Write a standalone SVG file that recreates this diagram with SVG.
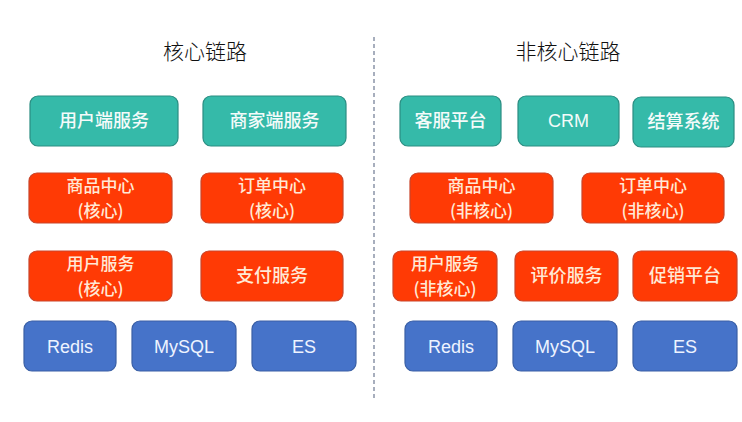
<svg xmlns="http://www.w3.org/2000/svg" width="742" height="422" viewBox="0 0 742 422">
<style>
.title{font-family:"Noto Sans CJK SC","Noto Sans",sans-serif;font-size:21px;fill:#111;text-anchor:middle;font-weight:300}
.box rect{stroke-width:1.2}
.teal rect{fill:#35baa9;stroke:#2b8d82}
.red rect{fill:#ff3a05;stroke:#c9452a}
.blue rect{fill:#4673c9;stroke:#3a5fa5}
.box text{font-family:"Noto Sans CJK SC","Liberation Sans",sans-serif;font-size:18px;text-anchor:middle;fill:#f4fbfa;font-weight:500}
.red text{fill:#ffe9d6}
.red text.l{font-size:17px}
.blue text{font-family:"Liberation Sans","Noto Sans CJK SC",sans-serif;fill:#eef3ff;font-weight:normal}
</style>
<rect width="742" height="422" fill="#ffffff"/>
<text class="title" x="205" y="59">核心链路</text>
<text class="title" x="568" y="59">非核心链路</text>
<g id="connectors">
<line x1="374" y1="37" x2="374" y2="398" stroke="#8a94a8" stroke-width="1.5" stroke-dasharray="4 3"/>
</g>
<g id="n1" class="box teal"><rect x="30" y="96" width="148" height="50" rx="8"/><text x="104" y="127">用户端服务</text></g>
<g id="n2" class="box teal"><rect x="203" y="96" width="143" height="50" rx="8"/><text x="274.5" y="127">商家端服务</text></g>
<g id="n3" class="box teal"><rect x="400" y="96" width="101" height="50" rx="8"/><text x="450.5" y="127">客服平台</text></g>
<g id="n4" class="box teal"><rect x="518" y="96" width="101" height="50" rx="8"/><text x="568.5" y="127" style="font-family:'Liberation Sans',sans-serif;font-weight:normal">CRM</text></g>
<g id="n5" class="box teal"><rect x="633" y="97" width="101" height="50" rx="8"/><text x="683.5" y="128">结算系统</text></g>
<g id="n6" class="box red"><rect x="29" y="173" width="143" height="50" rx="8"/><text class="l" x="100.5" y="192">商品中心</text><text class="l" x="100.5" y="217">(核心)</text></g>
<g id="n7" class="box red"><rect x="201" y="173" width="142" height="50" rx="8"/><text class="l" x="272" y="192">订单中心</text><text class="l" x="272" y="217">(核心)</text></g>
<g id="n8" class="box red"><rect x="410" y="173" width="143" height="50" rx="8"/><text class="l" x="481.5" y="192">商品中心</text><text class="l" x="481.5" y="217">(非核心)</text></g>
<g id="n9" class="box red"><rect x="582" y="173" width="142" height="50" rx="8"/><text class="l" x="653" y="192">订单中心</text><text class="l" x="653" y="217">(非核心)</text></g>
<g id="n10" class="box red"><rect x="29" y="251" width="143" height="50" rx="8"/><text class="l" x="100.5" y="270">用户服务</text><text class="l" x="100.5" y="295">(核心)</text></g>
<g id="n11" class="box red"><rect x="201" y="251" width="142" height="50" rx="8"/><text x="272" y="282">支付服务</text></g>
<g id="n12" class="box red"><rect x="393" y="251" width="104" height="50" rx="8"/><text class="l" x="445" y="270">用户服务</text><text class="l" x="445" y="295">(非核心)</text></g>
<g id="n13" class="box red"><rect x="515" y="251" width="103" height="50" rx="8"/><text x="566.5" y="282">评价服务</text></g>
<g id="n14" class="box red"><rect x="633" y="251" width="104" height="50" rx="8"/><text x="685" y="282">促销平台</text></g>
<g id="n15" class="box blue"><rect x="24" y="321" width="92" height="50" rx="8"/><text x="70" y="353">Redis</text></g>
<g id="n16" class="box blue"><rect x="132" y="321" width="104" height="50" rx="8"/><text x="184" y="353">MySQL</text></g>
<g id="n17" class="box blue"><rect x="252" y="321" width="104" height="50" rx="8"/><text x="304" y="353">ES</text></g>
<g id="n18" class="box blue"><rect x="405" y="321" width="92" height="50" rx="8"/><text x="451" y="353">Redis</text></g>
<g id="n19" class="box blue"><rect x="513" y="321" width="104" height="50" rx="8"/><text x="565" y="353">MySQL</text></g>
<g id="n20" class="box blue"><rect x="633" y="321" width="104" height="50" rx="8"/><text x="685" y="353">ES</text></g>
</svg>
